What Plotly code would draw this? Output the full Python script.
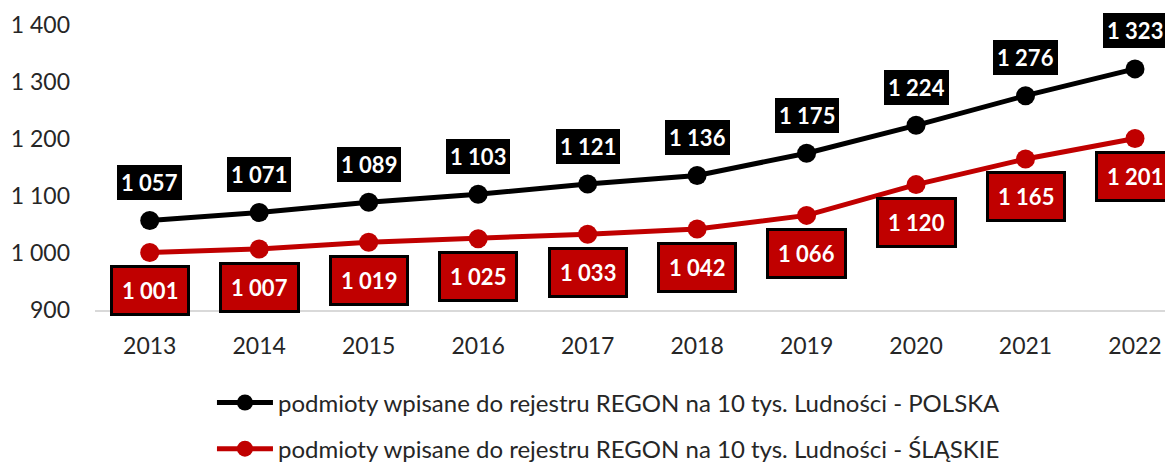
import plotly.graph_objects as go

years = [2013, 2014, 2015, 2016, 2017, 2018, 2019, 2020, 2021, 2022]
polska = [1057, 1071, 1089, 1103, 1121, 1136, 1175, 1224, 1276, 1323]
slaskie = [1001, 1007, 1019, 1025, 1033, 1042, 1066, 1120, 1165, 1201]
name_pl = "podmioty wpisane do rejestru REGON na 10 tys. Ludności - POLSKA"
name_sl = "podmioty wpisane do rejestru REGON na 10 tys. Ludności - ŚLĄSKIE"
y_ticks = [900, 1000, 1100, 1200, 1300, 1400]

BLACK = "#000000"
RED = "#C00000"
FONT = "Lato"
TXT = "#262626"

def fmt(v):
    return f"{v:,}".replace(",", " ")

fig = go.Figure()
fig.add_trace(go.Scatter(x=years, y=polska, name=name_pl, mode="lines+markers",
                         line=dict(color=BLACK, width=5),
                         marker=dict(color=BLACK, size=19), legendgroup="a"))
fig.add_trace(go.Scatter(x=years, y=slaskie, name=name_sl, mode="lines+markers",
                         line=dict(color=RED, width=5),
                         marker=dict(color=RED, size=19), legendgroup="b"))

for x, v in zip(years, polska):
    fig.add_annotation(x=x, y=v, text=f"<b>{fmt(v)}</b>", showarrow=False, yshift=38,
                       font=dict(family=FONT, size=22, color="white"),
                       bgcolor=BLACK, bordercolor=BLACK, borderwidth=1, borderpad=3)
for x, v in zip(years, slaskie):
    fig.add_annotation(x=x, y=v, text=f"<b>{fmt(v)}</b>", showarrow=False, yshift=-38,
                       font=dict(family=FONT, size=22, color="white"),
                       bgcolor=RED, bordercolor=BLACK, borderwidth=3, borderpad=9)

fig.update_layout(
    width=1165, height=454,
    margin=dict(l=87, r=0, t=17, b=152, autoexpand=False),
    paper_bgcolor="white", plot_bgcolor="white",
    font=dict(family=FONT, size=23, color=TXT),
    xaxis=dict(range=[2012.5, 2022.347], tickvals=years, ticktext=[str(y) for y in years],
               showgrid=False, zeroline=False, showline=True, linecolor="#D9D9D9",
               linewidth=1.5, ticks="", ticklabelstandoff=15,
               tickfont=dict(family=FONT, size=23, color=TXT)),
    yaxis=dict(range=[900, 1400], tickvals=y_ticks, ticktext=[fmt(v) for v in y_ticks],
               showgrid=False, zeroline=False, showline=False, ticks="",
               ticklabelstandoff=24,
               tickfont=dict(family=FONT, size=23, color=TXT)),
    showlegend=True,
    legend=dict(orientation="v", x=0.1085, xanchor="left", y=-0.247, yanchor="top",
                font=dict(family=FONT, size=24, color=TXT),
                itemwidth=56, tracegroupgap=12, bgcolor="rgba(0,0,0,0)"),
)

fig.write_html("out.html")
